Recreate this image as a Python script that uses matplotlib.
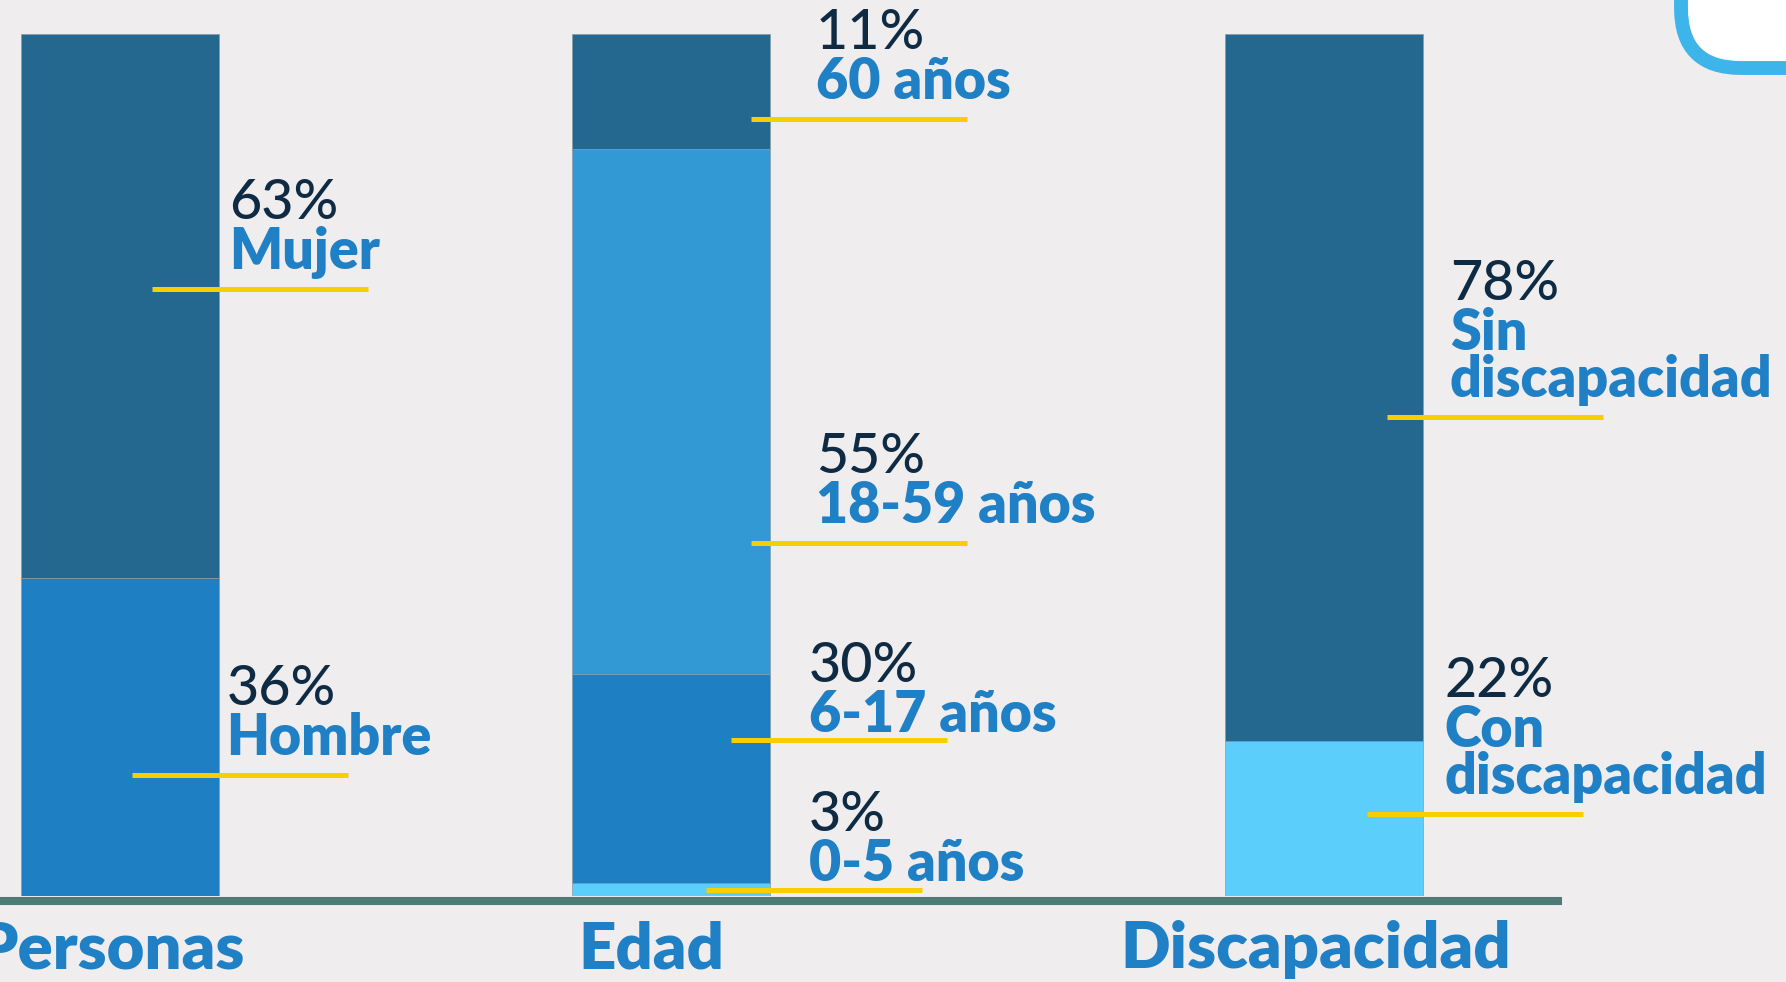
import matplotlib.pyplot as plt
from matplotlib.patches import FancyBboxPatch

# data
groups = ["Personas", "Edad", "Discapacidad"]

personas_names = [["Hombre"], ["Mujer"]]
personas_pct = [36, 63]
personas_drawn = [36.9, 63.1]      # segment heights as drawn (share of bar)

edad_names = [["0-5 años"], ["6-17 años"], ["18-59 años"], ["60 años"]]
edad_pct = [3, 30, 55, 11]
edad_drawn = [1.6, 24.2, 60.9, 13.3]

disc_names = [["Con", "discapacidad"], ["Sin", "discapacidad"]]
disc_pct = [22, 78]
disc_drawn = [18.0, 82.0]

# colours
DARK = "#246890"
MID = "#1e7fc2"
LIGHT = "#3399d5"
CYAN = "#5bcefc"
TXT_BLUE = "#1f80c5"
NAVY = "#0f2b44"
YELLOW = "#f7ce00"
BG = "#efeded"

personas_colors = [MID, DARK]
edad_colors = [CYAN, MID, LIGHT, DARK]
disc_colors = [CYAN, DARK]

# layout: (line height in % of bar, line start px, text start px, text gap px)
group_pos = [0.0, 1.0, 2.1836]
group_label_shift = [-9, -20, -8]
bar_width = 0.359
PX = 551.4  # pixels per x unit

personas_layout = [(14.1, 12, 107, 20), (70.4, 32, 110, 20)]
edad_layout = [(0.7, 35, 138, 9), (18.1, 60, 138, 8), (41.0, 80, 145, 20), (90.1, 80, 145, 20)]
disc_layout = [(9.6, 43, 121, 20), (55.6, 63, 126, 20)]

fig = plt.figure(figsize=(17.86, 9.82), dpi=100)
fig.patch.set_facecolor(BG)

ax = fig.add_axes([0, 0.0872, 1, 0.8782])
ax.set_xlim(-0.2169, 3.022)
ax.set_ylim(0, 100)
ax.axis("off")

series = [
    (personas_names, personas_pct, personas_drawn, personas_colors, personas_layout),
    (edad_names, edad_pct, edad_drawn, edad_colors, edad_layout),
    (disc_names, disc_pct, disc_drawn, disc_colors, disc_layout),
]

for pos, (names, pcts, drawn, colors, layout) in zip(group_pos, series):
    bottom = 0
    for h, c in zip(drawn, colors):
        ax.bar(pos, h, width=bar_width, bottom=bottom, color=c,
               edgecolor="#8a9ba5", linewidth=0.5, zorder=2)
        bottom += h

    for name_lines, pct, (ly, lx, tx, gap) in zip(names, pcts, layout):
        x0 = pos + lx / PX
        ax.plot([x0, x0 + 216 / PX], [ly, ly], color=YELLOW, lw=3.6,
                solid_capstyle="butt", zorder=4, clip_on=False)
        xt = pos + tx / PX
        dy = gap
        for line in reversed(name_lines):
            ax.annotate(line, xy=(xt, ly), xytext=(0, dy), textcoords="offset pixels",
                        ha="left", va="baseline", fontsize=40, fontweight="heavy",
                        family="Lato", color=TXT_BLUE, zorder=5)
            dy += 47
        ax.annotate(f"{pct}%", xy=(xt, ly), xytext=(0, dy + 3), textcoords="offset pixels",
                    ha="left", va="baseline", fontsize=40, fontweight="medium",
                    family="Lato", color=NAVY, zorder=5)

# base line
ax.axhline(-0.5, xmin=0, xmax=1558 / 1786, color="#4e7b77", lw=5.8, zorder=3,
           clip_on=False)

# group labels
for pos, g, shift in zip(group_pos, groups, group_label_shift):
    ax.annotate(g, xy=(pos, 0), xytext=(shift, -72), textcoords="offset pixels",
                ha="center", va="baseline", fontsize=47, fontweight="heavy",
                family="Lato", color=TXT_BLUE)

# decorative box in the top right corner
ov = fig.add_axes([0, 0, 1, 1], facecolor="none")
ov.set_xlim(0, 1786)
ov.set_ylim(982, 0)
ov.axis("off")
ov.add_patch(FancyBboxPatch((1681, -120), 300, 188,
                            boxstyle="round,pad=0,rounding_size=60",
                            facecolor="white", edgecolor="#3db4ea", lw=10))

fig.savefig("out.png", dpi=100, facecolor=BG)
